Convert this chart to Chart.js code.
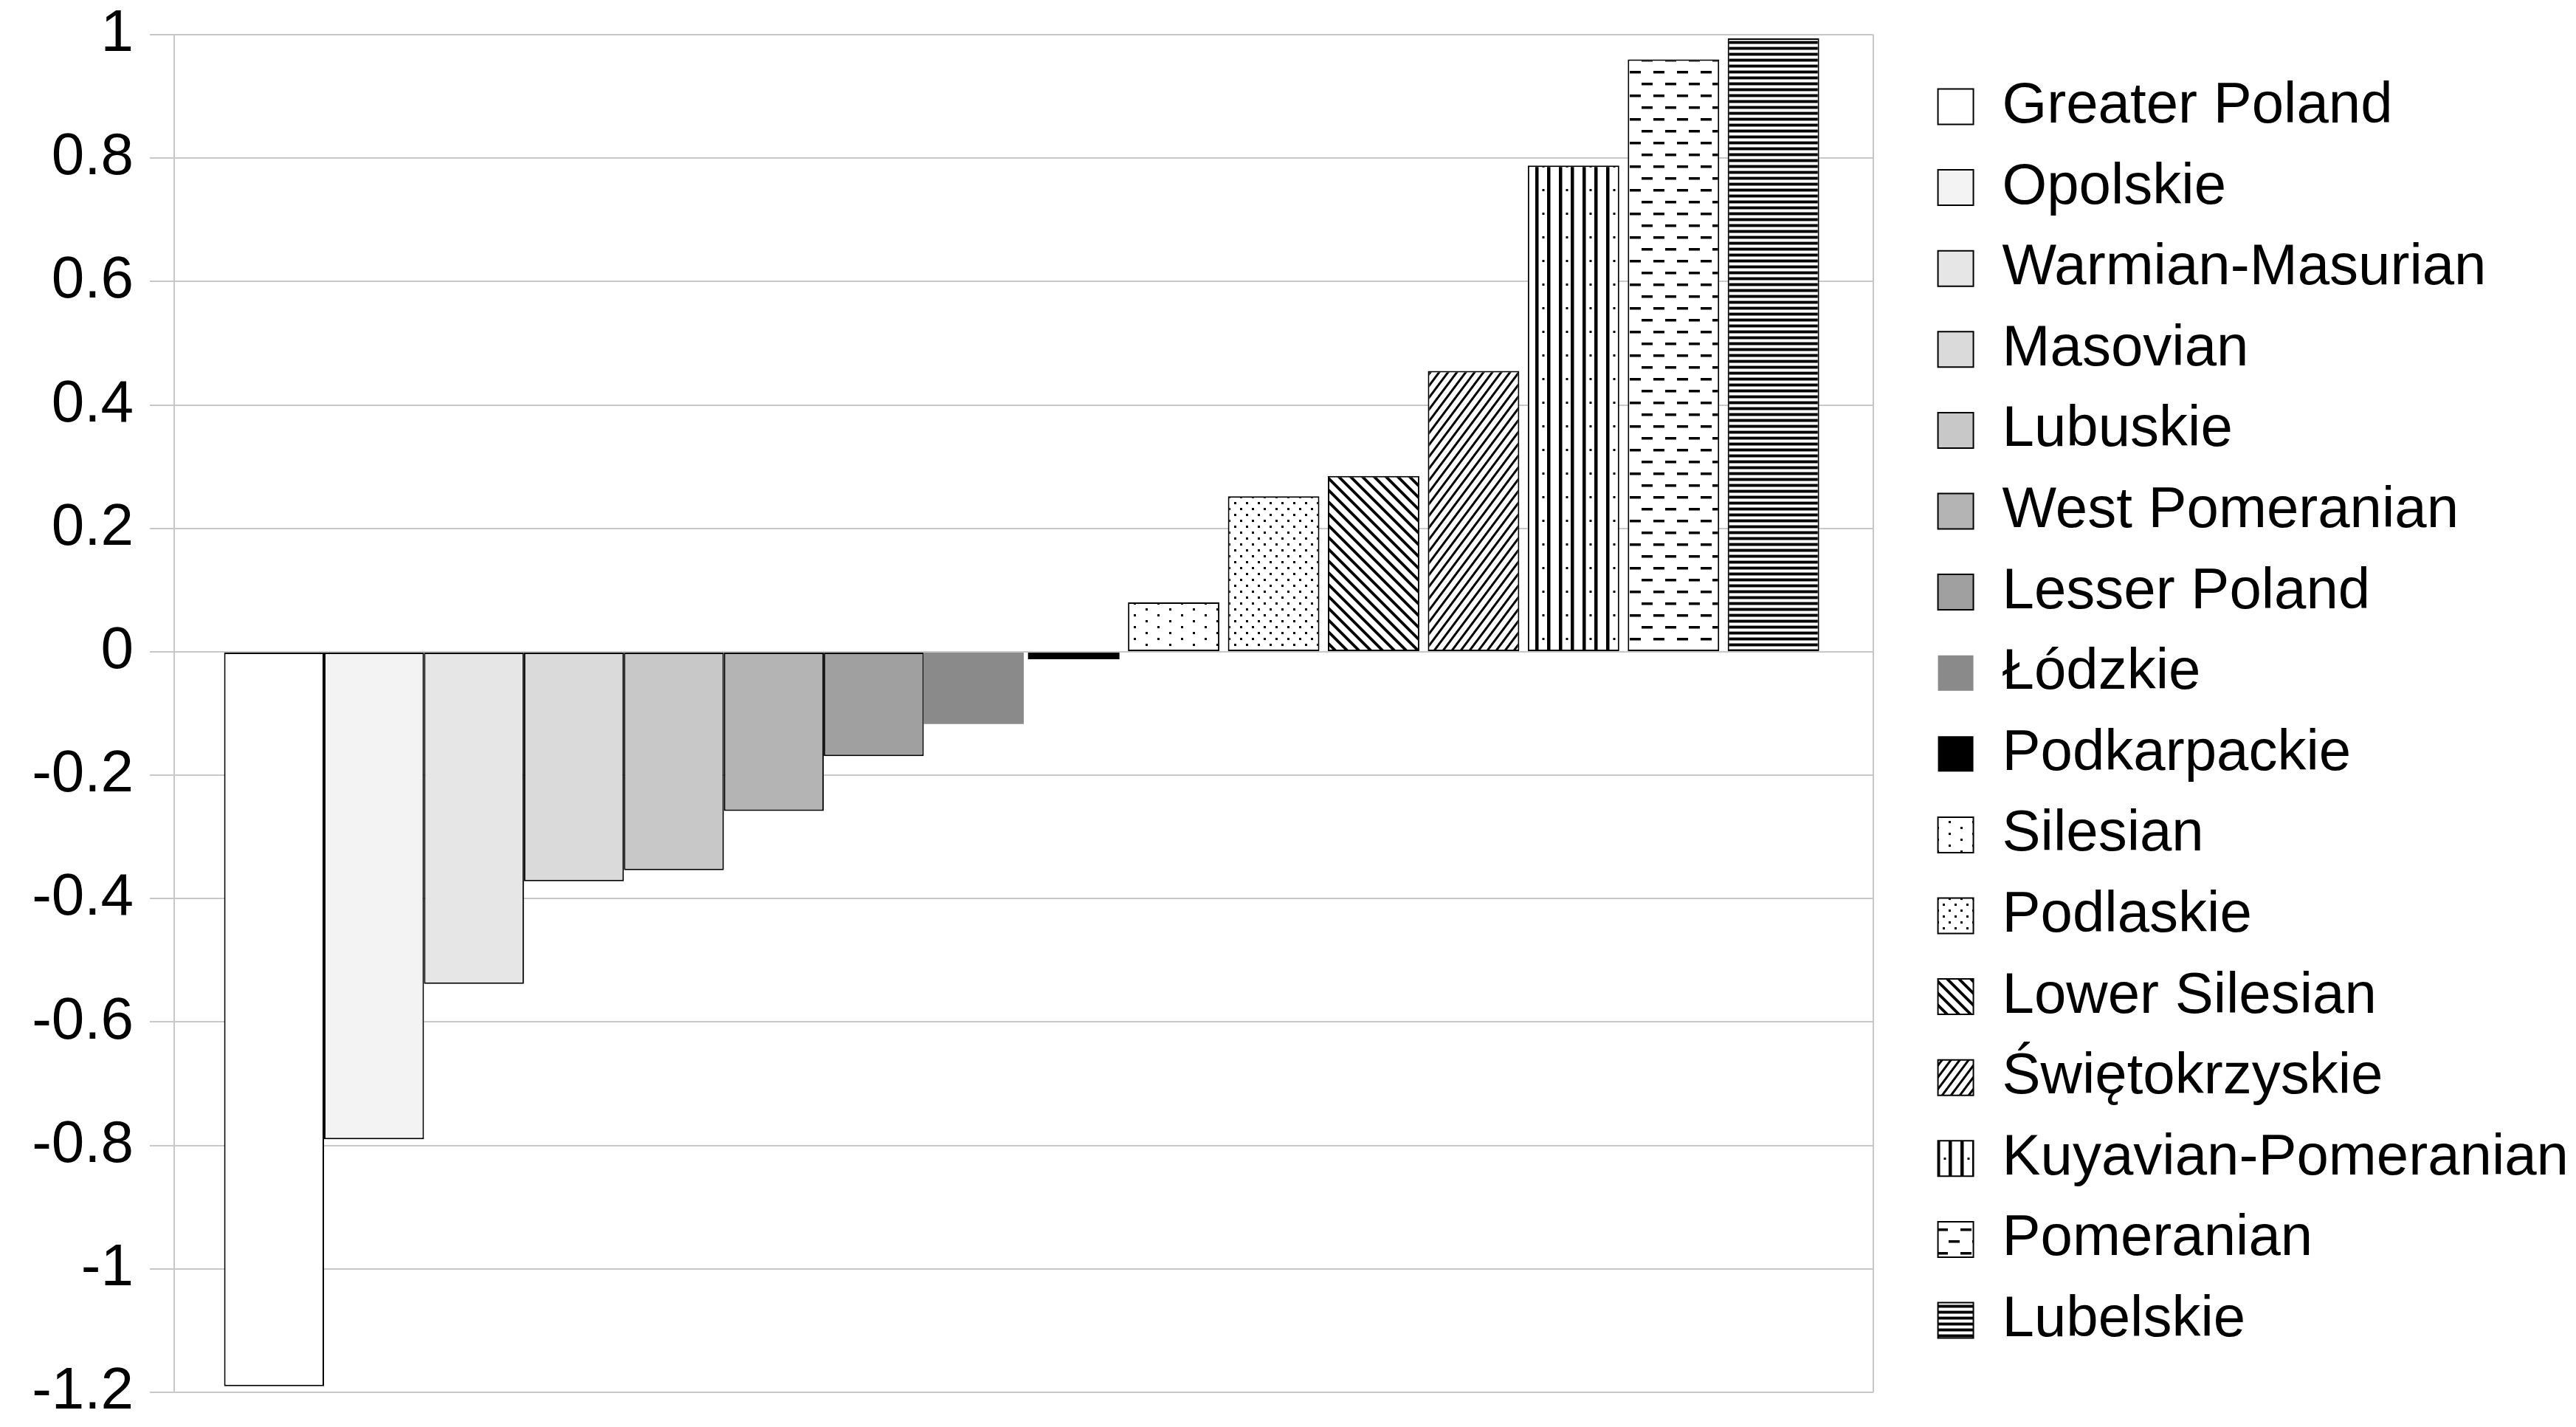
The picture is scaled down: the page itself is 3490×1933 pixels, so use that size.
<!DOCTYPE html>
<html>
<head>
<meta charset="utf-8">
<script src="https://cdn.jsdelivr.net/npm/chart.js@4.4.1/dist/chart.umd.min.js"></script>
<style>
  html, body { margin: 0; padding: 0; background: #ffffff; }
  #wrap { width: 3490px; height: 1933px; position: relative; }
</style>
</head>
<body>
<div id="wrap"><canvas id="c"></canvas></div>
<script>
// ---- data ----
const categories = [''];
const regions = [
  'Greater Poland', 'Opolskie', 'Warmian-Masurian', 'Masovian', 'Lubuskie',
  'West Pomeranian', 'Lesser Poland', 'Łódzkie', 'Podkarpackie', 'Silesian',
  'Podlaskie', 'Lower Silesian', 'Świętokrzyskie', 'Kuyavian-Pomeranian',
  'Pomeranian', 'Lubelskie'
];
const values = [
  -1.19, -0.79, -0.538, -0.372, -0.354,
  -0.258, -0.169, -0.117, -0.012, 0.08,
  0.252, 0.285, 0.455, 0.788,
  0.96, 0.994
];
const yMin = -1.2;
const yMax = 1;
const yStep = 0.2;
const yTickLabels = ['-1.2', '-1', '-0.8', '-0.6', '-0.4', '-0.2', '0', '0.2', '0.4', '0.6', '0.8', '1'];

// ---- fills ----
const canvas = document.getElementById('c');
const mainCtx = canvas.getContext('2d');

function makePattern(w, h, draw) {
  const t = document.createElement('canvas');
  t.width = w; t.height = h;
  const g = t.getContext('2d');
  g.fillStyle = '#ffffff';
  g.fillRect(0, 0, w, h);
  g.fillStyle = '#000000';
  g.strokeStyle = '#000000';
  draw(g, w, h);
  return mainCtx.createPattern(t, 'repeat');
}

const patSilesian = makePattern(32, 16, g => {
  g.fillRect(0, 0, 3, 3);
  g.fillRect(16, 8, 3, 3);
});
const patPodlaskie = makePattern(16, 16, g => {
  g.fillRect(0, 0, 3, 3);
  g.fillRect(8, 8, 3, 3);
});
const patLowerSilesian = makePattern(16, 16, g => {
  g.lineWidth = 3.8;
  g.beginPath();
  for (const k of [-16, 0, 16]) {
    g.moveTo(k - 4, -4);
    g.lineTo(k + 20, 20);
  }
  g.stroke();
});
const patSwieto = makePattern(12, 16, g => {
  g.lineWidth = 3;
  g.beginPath();
  for (const k of [-12, 0, 12]) {
    g.moveTo(k - 3, 20);
    g.lineTo(k + 15, -4);
  }
  g.stroke();
});
const patKuyavian = makePattern(32, 32, g => {
  g.fillRect(0, 0, 4.5, 32);
  g.fillRect(16, 0, 4.5, 32);
  g.fillRect(9.5, 0, 3, 3);
});
const patPomeranian = makePattern(32, 32, g => {
  g.fillRect(0, 0, 15, 3.5);
  g.fillRect(16, 16, 15, 3.5);
});
const patLubelskie = makePattern(8, 8, g => {
  g.fillStyle = '#000000';
  g.fillRect(0, 0, 8, 8);
  g.fillStyle = '#8c8c8c';
  g.fillRect(0, 3, 8, 1);
  g.fillRect(0, 7, 8, 1);
  g.fillStyle = '#ffffff';
  g.fillRect(0, 4, 8, 3);
});

const fills = [
  '#ffffff', '#f3f3f3', '#e6e6e6', '#dadada', '#c8c8c8',
  '#b4b4b4', '#a0a0a0', '#8a8a8a', '#000000', patSilesian,
  patPodlaskie, patLowerSilesian, patSwieto, patKuyavian,
  patPomeranian, patLubelskie
];
const borderWidths = [2, 2, 2, 2, 2, 2, 2, 0, 0, 2, 2, 2, 2, 2, 2, 2];
const barPcts = [1, 1, 1, 1, 1, 1, 1, 1, 0.915, 0.915, 0.915, 0.915, 0.915, 0.915, 0.915, 0.915];

const datasets = regions.map((name, i) => ({
  label: name,
  data: [values[i]],
  backgroundColor: fills[i],
  borderColor: '#000000',
  borderWidth: borderWidths[i],
  borderSkipped: false,
  barPercentage: barPcts[i],
  categoryPercentage: 0.9413
}));

const GRID = '#c8c8c8';
const FONT = 'Liberation Sans, Arial, sans-serif';

new Chart(canvas, {
  type: 'bar',
  data: { labels: categories, datasets },
  options: {
    responsive: true,
    maintainAspectRatio: false,
    animation: false,
    devicePixelRatio: 1,
    layout: { padding: { left: 0, right: 0, top: 47, bottom: 47 } },
    plugins: {
      tooltip: { enabled: false },
      title: { display: false },
      legend: {
        display: true,
        position: 'right',
        align: 'center',
        maxWidth: 1200,
        labels: {
          boxWidth: 48,
          boxHeight: 48,
          padding: 31.6,
          color: '#000000',
          font: { family: FONT, size: 78 }
        }
      }
    },
    scales: {
      x: {
        display: true,
        grid: { display: true, color: GRID, lineWidth: 2, drawTicks: false, offset: true },
        border: { display: false },
        ticks: { display: false }
      },
      y: {
        min: yMin,
        max: yMax,
        position: 'left',
        afterFit: s => { s.width = 236; },
        grid: { color: GRID, lineWidth: 2, tickLength: 33, tickColor: GRID, drawTicks: true },
        border: { display: true, color: GRID, width: 2 },
        ticks: {
          stepSize: yStep,
          padding: 22,
          color: '#000000',
          font: { family: FONT, size: 80, lineHeight: 0.5 },
          callback: v => {
            const idx = yTickLabels.findIndex(t => Math.abs(parseFloat(t) - v) < 1e-6);
            return idx >= 0 ? yTickLabels[idx] : '';
          }
        }
      },
      ySpacer: {
        type: 'linear',
        position: 'right',
        display: true,
        afterFit: s => { s.width = 56; },
        grid: { display: false, drawTicks: false },
        border: { display: false },
        ticks: { display: false }
      }
    }
  }
});
</script>
</body>
</html>
